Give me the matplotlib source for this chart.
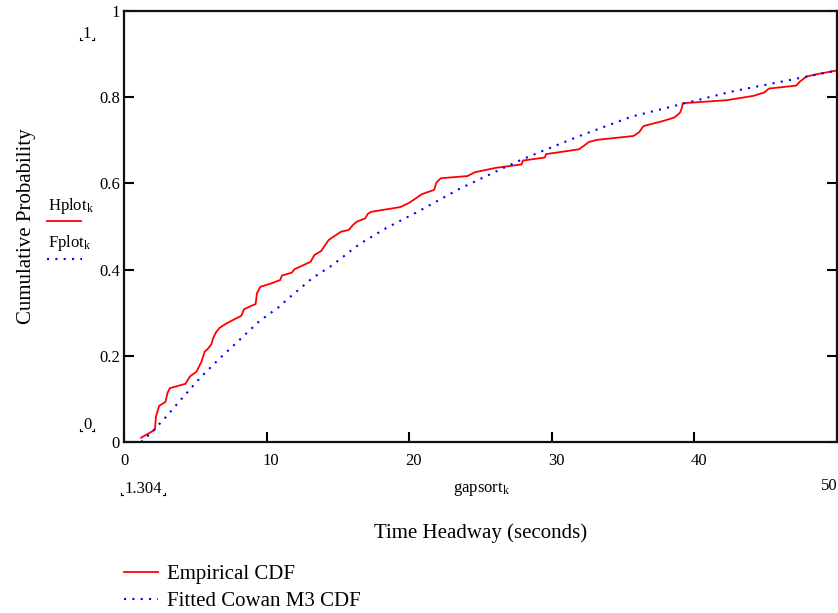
import matplotlib
matplotlib.use("Agg")
import matplotlib.pyplot as plt
import matplotlib.transforms as mtransforms
from matplotlib.lines import Line2D

plt.rcParams['font.family'] = ['Liberation Serif', 'DejaVu Sans']
plt.rcParams['mathtext.default'] = 'regular'

# empirical CDF (red)
emp_x = [1.20, 2.05, 2.17, 2.24, 2.47, 2.91, 3.05, 3.22, 4.31, 4.62,
         5.08, 5.43, 5.66, 5.85, 6.13, 6.25, 6.48, 6.71, 7.18, 7.64,
         8.23, 8.42, 8.93, 9.23, 9.32, 9.56, 10.33, 10.96, 11.07, 11.77,
         11.96, 12.43, 13.08, 13.36, 13.82, 14.36, 15.22, 15.76, 16.04, 16.32,
         16.92, 17.09, 17.32, 19.37, 20.00, 20.45, 20.89, 21.75, 21.91, 22.22,
         24.08, 24.62, 26.06, 27.88, 27.97, 29.51, 29.60, 31.89, 32.24, 32.59,
         33.17, 35.73, 36.13, 36.43, 37.83, 38.60, 38.99, 39.11, 39.18, 42.26,
         44.13, 44.90, 45.22, 47.15, 47.39, 47.86, 48.67, 50.00]
emp_y = [0.010, 0.026, 0.029, 0.059, 0.084, 0.093, 0.114, 0.125, 0.135, 0.152,
         0.163, 0.186, 0.210, 0.215, 0.227, 0.241, 0.256, 0.265, 0.275, 0.283,
         0.293, 0.308, 0.316, 0.320, 0.345, 0.360, 0.368, 0.376, 0.386, 0.393,
         0.401, 0.408, 0.418, 0.434, 0.443, 0.469, 0.488, 0.492, 0.503, 0.511,
         0.519, 0.529, 0.534, 0.545, 0.555, 0.565, 0.575, 0.585, 0.602, 0.612,
         0.617, 0.626, 0.636, 0.644, 0.653, 0.660, 0.668, 0.679, 0.687, 0.696,
         0.701, 0.710, 0.719, 0.733, 0.745, 0.753, 0.764, 0.774, 0.786, 0.793,
         0.803, 0.811, 0.820, 0.827, 0.836, 0.848, 0.854, 0.862]

# fitted Cowan M3 CDF (blue dotted)
fit_x = [1.20, 2.05, 3.10, 4.27, 5.43, 6.71, 7.88, 9.51, 10.90, 11.38,
         13.20, 14.60, 16.50, 18.37, 20.70, 23.50, 26.30, 27.80, 30.00, 32.10,
         35.60, 39.10, 42.60, 46.10, 50.00]
fit_y = [0.000, 0.026, 0.064, 0.109, 0.152, 0.194, 0.230, 0.281, 0.314, 0.329,
         0.380, 0.410, 0.459, 0.496, 0.536, 0.587, 0.631, 0.654, 0.684, 0.712,
         0.755, 0.784, 0.813, 0.836, 0.862]

x_ticks = [0, 10, 20, 30, 40]
y_ticks = [0, 0.2, 0.4, 0.6, 0.8, 1]
y_tick_labels = ["0", "0.2", "0.4", "0.6", "0.8", "1"]

W, H = 838, 613
fig = plt.figure(figsize=(W / 100, H / 100), dpi=100)
ax = fig.add_axes([124 / W, 1 - 442 / H, 713 / W, 431 / H])

red_line, = ax.plot(emp_x, emp_y, color='#ff0000', lw=1.3)
blue_line, = ax.plot(fit_x, fit_y, color='#0000ff', lw=1.5,
                     linestyle=(0, (1, 3)))

ax.set_xlim(0, 50)
ax.set_ylim(0, 1)
ax.set_xticks(x_ticks)
ax.set_yticks(y_ticks)
ax.set_yticklabels(y_tick_labels)
ax.tick_params(direction='in', length=7, width=1.5, labelsize=12,
               top=False, right=True, pad=3)
ax.tick_params(axis='x', pad=8)
for s in ax.spines.values():
    s.set_linewidth(1.6)
    s.set_color('#111111')
shift = mtransforms.ScaledTranslation(-4 / 100, 0, fig.dpi_scale_trans)
for lab in ax.get_xticklabels():
    lab.set_horizontalalignment('left')
    lab.set_transform(lab.get_transform() + shift)

ax.set_ylabel("Cumulative Probability", fontsize=15, labelpad=45)
ax.set_xlabel("Time Headway (seconds)", fontsize=15, labelpad=39)


def px(x, y):
    return x / W, 1 - y / H


def mathcad_mark(x, y, text):
    # value with the little corner marks Mathcad draws around it
    t = fig.text(*px(x, y), text, fontsize=12, ha='center', va='center')
    fig.canvas.draw()
    bb = t.get_window_extent()
    x0, x1 = bb.x0 - 3, bb.x1 + 3
    yb = bb.y0 + 2
    for xx, d in ((x0, 2), (x1, -2)):
        fig.add_artist(Line2D([xx / W, xx / W], [yb / H, (yb + 2) / H],
                              transform=fig.transFigure, color='k', lw=0.8))
        fig.add_artist(Line2D([xx / W, (xx + d) / W], [yb / H, yb / H],
                              transform=fig.transFigure, color='k', lw=0.8))


mathcad_mark(87, 34, "1")
mathcad_mark(87, 425, "0")
mathcad_mark(143, 489, "1.304")
fig.text(*px(453, 489), "gapsort$_k$", fontsize=12, ha='left', va='center')
fig.text(*px(829, 486), "50", fontsize=12, ha='center', va='center')

# trace names left of the axis
fig.text(*px(48, 206), "Hplot$_k$", fontsize=12, ha='left', va='center')
fig.add_artist(Line2D([47 / W, 81 / W], [1 - 221 / H, 1 - 221 / H],
                      transform=fig.transFigure, color='#ff0000', lw=1.3))
fig.text(*px(48, 243), "Fplot$_k$", fontsize=12, ha='left', va='center')
fig.add_artist(Line2D([47 / W, 82 / W], [1 - 259 / H, 1 - 259 / H],
                      transform=fig.transFigure, color='#0000ff', lw=1.5,
                      linestyle=(0, (1, 3))))

fig.legend([red_line, blue_line], ["Empirical CDF", "Fitted Cowan M3 CDF"],
           loc='upper left', bbox_to_anchor=(116 / W, 1 - 556 / H),
           frameon=False, fontsize=15, handlelength=1.6, handletextpad=0.45,
           labelspacing=0.35, borderaxespad=0)

fig.savefig("out.png", dpi=100)
